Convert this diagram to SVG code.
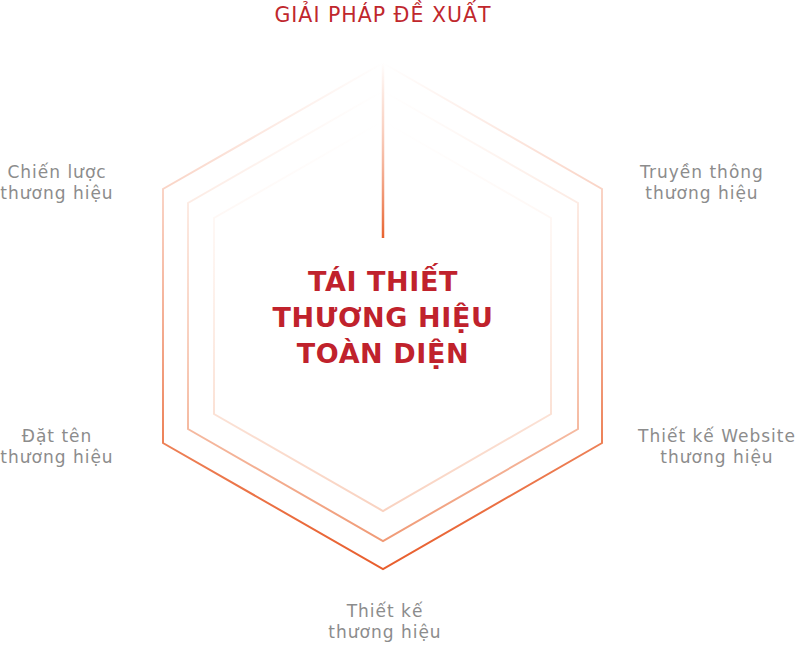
<svg xmlns="http://www.w3.org/2000/svg" width="800" height="648" viewBox="0 0 800 648">
  <defs>
    <linearGradient id="gOuter" gradientUnits="userSpaceOnUse" x1="0" y1="62" x2="0" y2="570">
      <stop offset="0" stop-color="#f7b39a" stop-opacity="0"/>
      <stop offset="0.25" stop-color="#f4a88c" stop-opacity="0.5"/>
      <stop offset="0.75" stop-color="#ec7a4e" stop-opacity="0.95"/>
      <stop offset="1" stop-color="#e85d2c"/>
    </linearGradient>
    <linearGradient id="gMiddle" gradientUnits="userSpaceOnUse" x1="0" y1="91" x2="0" y2="541">
      <stop offset="0" stop-color="#f8c4ae" stop-opacity="0"/>
      <stop offset="0.3" stop-color="#f6b89e" stop-opacity="0.35"/>
      <stop offset="1" stop-color="#f09a76"/>
    </linearGradient>
    <linearGradient id="gInner" gradientUnits="userSpaceOnUse" x1="0" y1="121" x2="0" y2="511">
      <stop offset="0" stop-color="#fbe0d4" stop-opacity="0"/>
      <stop offset="0.4" stop-color="#fbdccd" stop-opacity="0.35"/>
      <stop offset="1" stop-color="#f9d2c0"/>
    </linearGradient>
    <linearGradient id="gLine" gradientUnits="userSpaceOnUse" x1="0" y1="63" x2="0" y2="238">
      <stop offset="0" stop-color="#f5a98c" stop-opacity="0"/>
      <stop offset="0.35" stop-color="#f7b8a0" stop-opacity="0.6"/>
      <stop offset="1" stop-color="#e8622e"/>
    </linearGradient>
    <style>
      .lbl { font-family: "DejaVu Sans", "Liberation Sans", sans-serif; font-size: 17px; letter-spacing: 1px; fill: #8c8c8c; text-anchor: middle; }
      .title { font-family: "DejaVu Sans", "Liberation Sans", sans-serif; font-size: 20.5px; letter-spacing: 1px; fill: #c0272d; text-anchor: middle; }
      .center { font-family: "DejaVu Sans", "Liberation Sans", sans-serif; font-size: 27px; letter-spacing: 0.6px; font-weight: 700; fill: #c0222c; text-anchor: middle; }
      .hex { fill: none; stroke-width: 2; stroke-linejoin: miter; }
    </style>
  </defs>

  <g id="title">
    <text class="title" x="383" y="22">GIẢI PHÁP ĐỀ XUẤT</text>
  </g>

  <g id="hexagons">
    <polygon id="hex-outer" class="hex" stroke="url(#gOuter)" points="383,63 602,189 602,443 383,569 163,443 163,189"/>
    <polygon id="hex-middle" class="hex" stroke="url(#gMiddle)" points="383,91 578,203 578,429 383,541 188,429 188,203"/>
    <polygon id="hex-inner" class="hex" stroke="url(#gInner)" points="383,121 551,218 551,414 383,511 214,414 214,218"/>
  </g>

  <g id="connectors">
    <line x1="383" y1="63" x2="383" y2="238" stroke="url(#gLine)" stroke-width="2.5"/>
  </g>

  <g id="center">
    <text class="center" x="383" y="291">TÁI THIẾT</text>
    <text class="center" x="383" y="327">THƯƠNG HIỆU</text>
    <text class="center" x="383" y="363">TOÀN DIỆN</text>
  </g>

  <g id="node-chien-luoc">
    <text class="lbl" x="57" y="178">Chiến lược</text>
    <text class="lbl" x="57" y="199">thương hiệu</text>
  </g>
  <g id="node-truyen-thong">
    <text class="lbl" x="702" y="178">Truyền thông</text>
    <text class="lbl" x="702" y="199">thương hiệu</text>
  </g>
  <g id="node-dat-ten">
    <text class="lbl" x="57" y="442">Đặt tên</text>
    <text class="lbl" x="57" y="463">thương hiệu</text>
  </g>
  <g id="node-website">
    <text class="lbl" x="717" y="442">Thiết kế Website</text>
    <text class="lbl" x="717" y="463">thương hiệu</text>
  </g>
  <g id="node-thiet-ke">
    <text class="lbl" x="385" y="617">Thiết kế</text>
    <text class="lbl" x="385" y="638">thương hiệu</text>
  </g>
</svg>
